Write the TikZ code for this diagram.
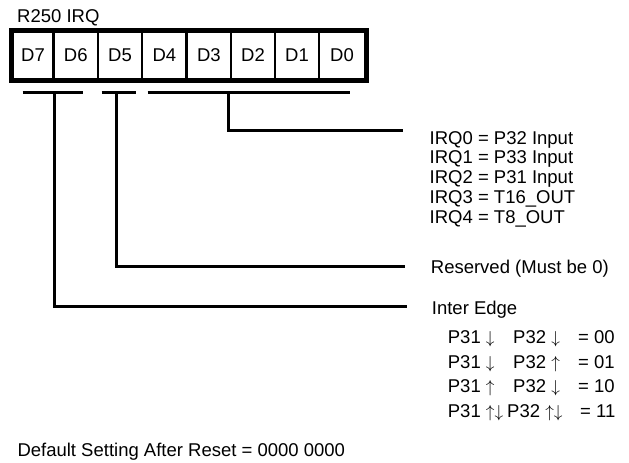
\documentclass[tikz,border=0pt]{standalone}
\usepackage{fontspec}
\setmainfont{Liberation Sans}
\newcommand{\dn}{\ensuremath{\downarrow}}
\newcommand{\up}{\ensuremath{\uparrow}}
\begin{document}
\begin{tikzpicture}[x=1pt,y=-1pt,
  font=\fontsize{18.5}{22}\selectfont,
  lbl/.style={anchor=base west, inner sep=0pt},
  cellbox/.style={draw, line width=2.8pt, minimum height=47.7pt, inner sep=0pt},
  wire/.style={line width=3pt}]
\useasboundingbox (0,0) rectangle (629,463);

% title
\node[lbl] (title) at (17,22) {R250 IRQ};

% register cells
\node[cellbox, minimum width=41pt]   (d7) at (33,55.35)     {D7};
\node[cellbox, minimum width=44.5pt] (d6) at (75.75,55.35)  {D6};
\node[cellbox, minimum width=44pt]   (d5) at (120,55.35)    {D5};
\node[cellbox, minimum width=44.7pt] (d4) at (164.35,55.35) {D4};
\node[cellbox, minimum width=44.3pt] (d3) at (208.85,55.35) {D3};
\node[cellbox, minimum width=44pt]   (d2) at (253,55.35)    {D2};
\node[cellbox, minimum width=44pt]   (d1) at (297,55.35)    {D1};
\node[cellbox, minimum width=46pt]   (d0) at (342,55.35)    {D0};
\draw[line width=4.2pt] (d7.north west) rectangle (d0.south east);

% brackets
\coordinate (b1l) at (22.7,92.3);  \coordinate (b1r) at (83.3,92.3);  \coordinate (b1) at (54,92.3);
\coordinate (b2l) at (101.7,92.3); \coordinate (b2r) at (136,92.3);   \coordinate (b2) at (116.7,92.3);
\coordinate (b3l) at (147.7,92.3); \coordinate (b3r) at (350,92.3);   \coordinate (b3) at (228.3,92.3);
\draw[wire] (b1l) -- (b1r);
\draw[wire] (b2l) -- (b2r);
\draw[wire] (b3l) -- (b3r);

% leader ends
\coordinate (e3) at (403.3,130.7);
\coordinate (e2) at (405,266.7);
\coordinate (e1) at (406.7,306);
\draw[wire] (b3) |- (e3);
\draw[wire] (b2) |- (e2);
\draw[wire] (b1) |- (e1);

% IRQ texts
\node[lbl] (irq0) at (429.5,144)   {IRQ0 = P32 Input};
\node[lbl] (irq1) at (429.5,163.75){IRQ1 = P33 Input};
\node[lbl] (irq2) at (429.5,183.5) {IRQ2 = P31 Input};
\node[lbl] (irq3) at (429.5,203.25){IRQ3 = T16\_OUT};
\node[lbl] (irq4) at (429.5,223)   {IRQ4 = T8\_OUT};

% reserved
\node[lbl] (res) at (430.7,273) {Reserved (Must be 0)};

% inter edge
\node[lbl] (ie) at (431.7,314) {Inter Edge};
\node[lbl] (r0a) at (447.7,343) {P31 \dn};
\node[lbl] (r0b) at (513,343)   {P32 \dn};
\node[lbl] (r0c) at (578,343)   {= 00};
\node[lbl] (r1a) at (447.7,368) {P31 \dn};
\node[lbl] (r1b) at (513,368)   {P32 \up};
\node[lbl] (r1c) at (578,368)   {= 01};
\node[lbl] (r2a) at (447.7,392) {P31 \up};
\node[lbl] (r2b) at (513,392)   {P32 \dn};
\node[lbl] (r2c) at (578,392)   {= 10};
\node[lbl] (r3a) at (447.7,417) {P31 \up\dn};
\node[lbl] (r3b) at (507,417)   {P32 \up\dn};
\node[lbl] (r3c) at (580,417)   {= 11};

% default
\node[lbl] (def) at (17.3,456.7) {Default Setting After Reset = 0000 0000};
\end{tikzpicture}
\end{document}
